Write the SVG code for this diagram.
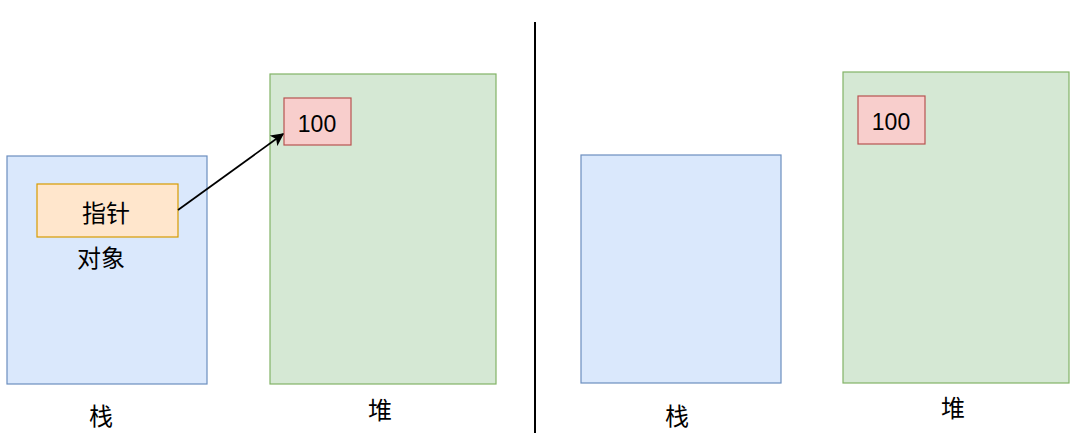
<svg xmlns="http://www.w3.org/2000/svg" width="1080" height="433" viewBox="0 0 1080 433">
<defs>
<style>
.stack{fill:#dae8fc;stroke:#6c8ebf;stroke-width:1.2}
.heap{fill:#d5e8d4;stroke:#82b366;stroke-width:1.2}
.ptr{fill:#ffe6cc;stroke:#d79b00;stroke-width:1.2}
.val{fill:#f8cecc;stroke:#b85450;stroke-width:1.2}
text{font-family:"Liberation Sans","Noto Sans CJK SC",sans-serif;font-size:24px;fill:#000;text-anchor:middle;dominant-baseline:central}
text.num{font-size:23px}
</style>
<marker id="arrow" viewBox="0 0 10 10" refX="9" refY="5" markerWidth="13" markerHeight="13" markerUnits="userSpaceOnUse" orient="auto">
<path d="M0,0 L10,5 L0,10 L2.5,5 Z" fill="#000"/>
</marker>
</defs>
<rect width="1080" height="433" fill="#fff"/>
<g id="divider"><line x1="535" y1="22" x2="535" y2="433" stroke="#000" stroke-width="2"/></g>
<g id="stack-left"><rect class="stack" x="7" y="156" width="200" height="228"/><text x="101" y="258">对象</text></g>
<g id="heap-left"><rect class="heap" x="270" y="74" width="226" height="310"/></g>
<g id="pointer"><rect class="ptr" x="37" y="184" width="141" height="53"/><text x="106" y="213">指针</text></g>
<g id="val-left"><rect class="val" x="284" y="98" width="67" height="47"/><text class="num" x="317" y="124">100</text></g>
<g id="label-stack-left"><text x="101" y="416">栈</text></g>
<g id="label-heap-left"><text x="380" y="410">堆</text></g>
<g id="stack-right"><rect class="stack" x="581" y="155" width="200" height="228"/></g>
<g id="heap-right"><rect class="heap" x="843" y="72" width="226" height="311"/></g>
<g id="val-right"><rect class="val" x="858" y="96" width="67" height="48"/><text class="num" x="891" y="122">100</text></g>
<g id="label-stack-right"><text x="677" y="416">栈</text></g>
<g id="label-heap-right"><text x="953" y="408">堆</text></g>
<g id="connectors"><line x1="178" y1="210" x2="283" y2="134" stroke="#000" stroke-width="1.8" marker-end="url(#arrow)"/></g>
</svg>
